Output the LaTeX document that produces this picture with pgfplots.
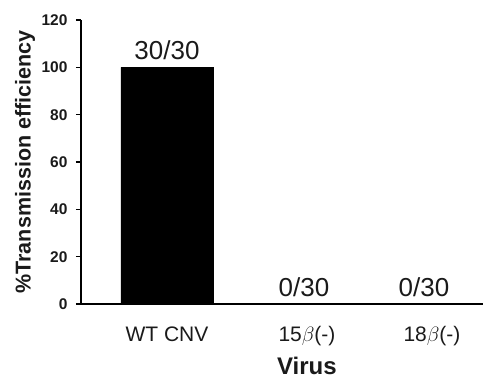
\documentclass[border=0pt]{standalone}
\usepackage{pgfplots}
\pgfplotsset{compat=1.18}
\usepackage{fontspec}
\setmainfont{Liberation Sans}
\definecolor{txt}{HTML}{1A1A1A}
\begin{document}
\begin{tikzpicture}
\begin{axis}[
  at={(0pt,0pt)}, anchor=south west,
  scale only axis, width=402pt, height=284pt,
  xmin=81, xmax=483, ymin=0, ymax=120,
  axis lines=left, axis line style={-, line width=1.2pt, black},
  tick style={black, line width=1.1pt},
  tick align=outside,
  major tick length=5pt,
  ytick={0,20,40,60,80,100,120},
  yticklabels={0,20,40,60,80,100,120},
  every y tick label/.style={font=\bfseries\fontsize{15.5}{18}\selectfont, text=txt, anchor=east, xshift=-5pt},
  xtick={167,307,432},
  xticklabels={WT CNV, 15$\beta$(-), 18$\beta$(-)},
  x tick style={draw=none},
  xticklabel style={font=\fontsize{21}{21}\selectfont, text=txt, anchor=base, yshift=-33pt},
  extra x ticks={253,368},
  extra x tick labels={},
  extra x tick style={tick style={draw=black, line width=1.1pt}},
  ylabel={\%Transmission efficiency},
  ylabel style={at={(axis description cs:-0.139,0.5)}, anchor=center, rotate=0, font=\bfseries\fontsize{21.5}{21.5}\selectfont, text=txt},
  xlabel={Virus},
  xlabel style={at={(axis description cs:0.562,-0.25)}, anchor=base, font=\bfseries\fontsize{24}{24}\selectfont, text=txt},
  clip=false,
]
\addplot[ybar, bar width=92, fill=black, draw=black,
  nodes near coords, point meta=explicit symbolic,
  every node near coord/.style={anchor=base, yshift=7.5pt, font=\fontsize{26}{26}\selectfont, text=txt}]
  coordinates {(167,100) [30/30] (304,0) [0/30] (424,0) [0/30]};
\end{axis}
\pgfresetboundingbox
\path (-81pt,-79pt) rectangle (402pt,304pt);
\end{tikzpicture}
\end{document}
